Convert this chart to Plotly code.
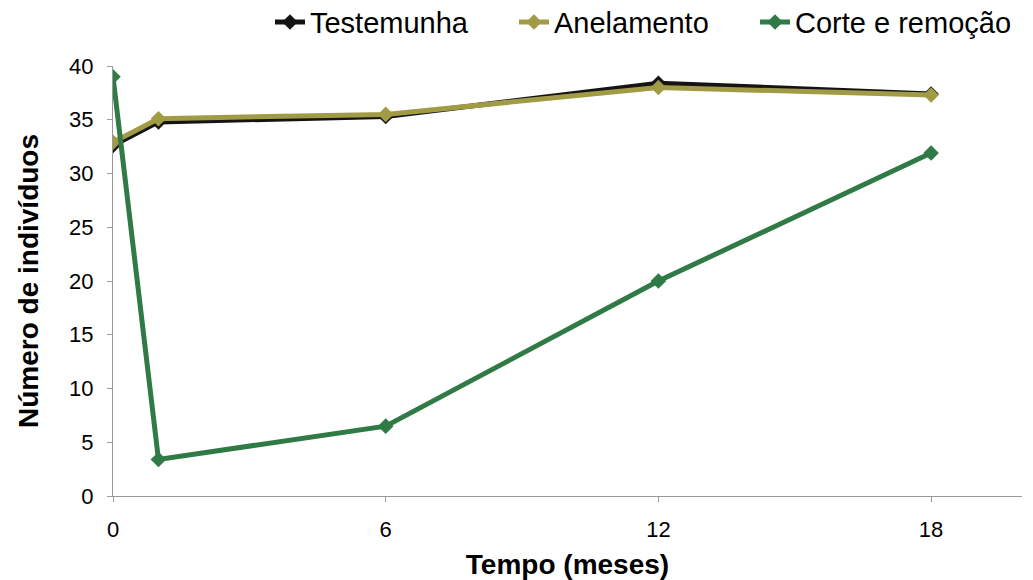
import plotly.graph_objects as go

# Months after treatment
meses = [0, 1, 6, 12, 18]

# Number of individuals per treatment
testemunha = [32.6, 34.8, 35.3, 38.4, 37.4]
anelamento = [32.9, 35.1, 35.5, 38.0, 37.3]
corte_remocao = [39.0, 3.4, 6.5, 20.0, 31.9]

# name, values, colour, legend group box
series = [
    ("Testemunha", testemunha, "#141414", "legend"),
    ("Anelamento", anelamento, "#a29b45", "legend"),
    ("Corte e remoção", corte_remocao, "#2f7a45", "legend2"),
]

fig = go.Figure()
for nome, valores, cor, caixa in series:
    fig.add_trace(go.Scatter(
        x=meses, y=valores, name=nome, mode="lines+markers",
        line=dict(color=cor, width=5),
        marker=dict(symbol="diamond", size=12, color=cor),
        legend=caixa,
    ))

font_family = "Liberation Sans, Arial, sans-serif"
axis_grey = "#9a9a9a"
legend_font = dict(size=29, color="black")

fig.update_layout(
    width=1033, height=580,
    margin=dict(l=113, r=11, t=66, b=84, autoexpand=False),
    paper_bgcolor="white", plot_bgcolor="white",
    font=dict(family=font_family, size=22, color="black"),
    showlegend=True,
    legend=dict(
        orientation="h",
        x=0.1727, xanchor="left", y=1.102, yanchor="middle",
        font=legend_font,
        entrywidth=199, entrywidthmode="pixels",
        traceorder="normal", itemsizing="constant",
        bgcolor="rgba(0,0,0,0)",
    ),
    legend2=dict(
        orientation="h",
        x=0.7063, xanchor="left", y=1.102, yanchor="middle",
        font=legend_font,
        itemsizing="constant",
        bgcolor="rgba(0,0,0,0)",
    ),
    xaxis=dict(
        range=[0, 20], tickvals=[0, 6, 12, 18], showgrid=False, zeroline=False,
        showline=True, linecolor=axis_grey, linewidth=1,
        ticks="outside", ticklen=5, tickcolor=axis_grey,
        tickfont=dict(size=22), ticklabelstandoff=9,
        title=dict(text="<b>Tempo (meses)</b>", font=dict(size=28), standoff=16),
    ),
    yaxis=dict(
        range=[0, 40], dtick=5, showgrid=False, zeroline=False,
        showline=True, linecolor=axis_grey, linewidth=1,
        ticks="outside", ticklen=5, tickcolor=axis_grey,
        tickfont=dict(size=22), ticklabelstandoff=9,
        title=dict(text="<b>Número de indivíduos</b>", font=dict(size=28), standoff=22),
    ),
)

fig.write_html("out.html")
